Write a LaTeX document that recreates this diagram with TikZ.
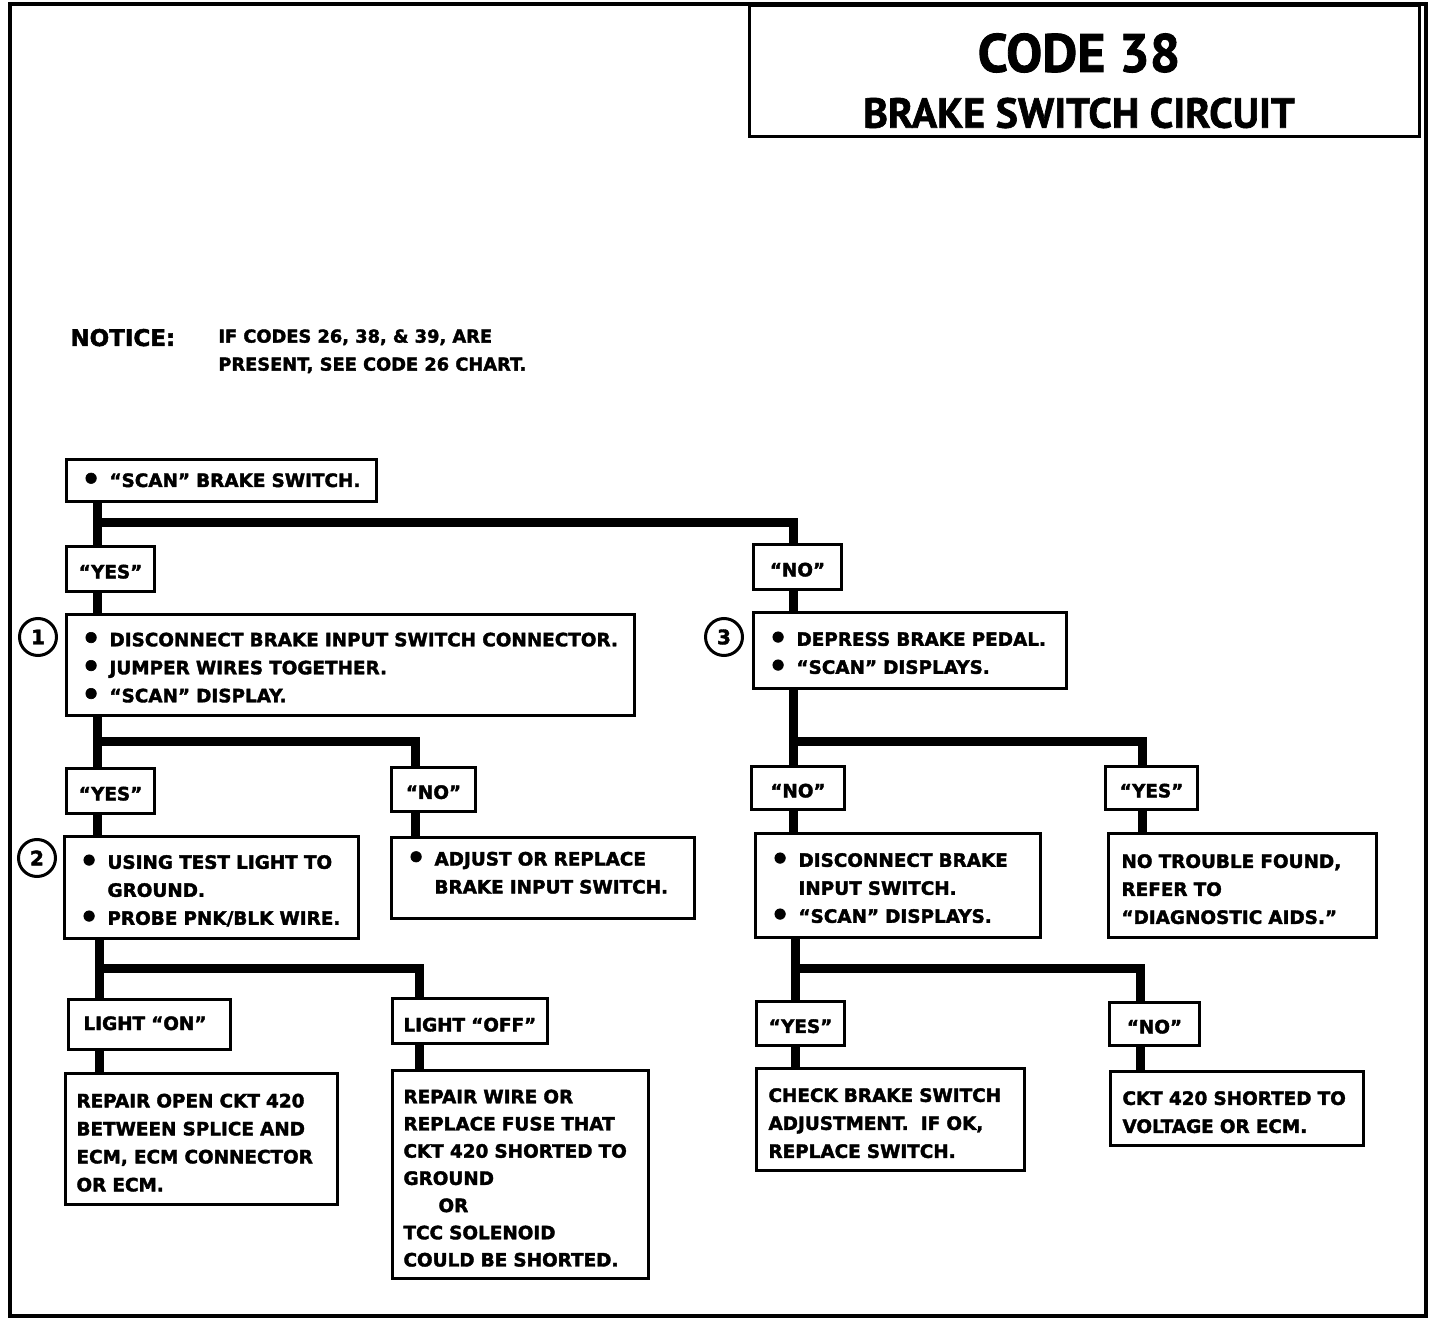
\documentclass[tikz,border=0pt]{standalone}
\usepackage{fontspec}
\setmainfont{PT Sans}[BoldFeatures={FakeBold=1.5}]
\newfontfamily\bodyfont{DejaVu Sans}[BoldFeatures={FakeBold=2}]
\usetikzlibrary{positioning}

\newcommand{\bl}{\makebox[14pt][l]{\raisebox{-1.2pt}{\fontsize{15}{14}\selectfont\textbullet}}}
\newcommand{\ind}{\hspace*{14pt}}

\begin{document}
\begin{tikzpicture}[x=0.5pt, y=-0.5pt,
  every node/.style={font=\bodyfont\bfseries\fontsize{9.2}{14}\selectfont},
  box/.style={draw, line width=1.5pt, anchor=north west, align=left, inner xsep=7.5pt, inner ysep=0pt,
    execute at begin node={\rule{0pt}{10.5pt}}},
  answer/.style={draw, line width=1.5pt, anchor=north west, align=center, inner sep=0pt,
    execute at begin node={\rule{0pt}{9.5pt}}},
  stepno/.style={draw, circle, line width=1.5pt, minimum size=18.5pt, inner sep=0pt, font=\bodyfont\bfseries\fontsize{10}{10}\selectfont},
  wire/.style={line width=4.5pt}]
\useasboundingbox (0,0) rectangle (1456,1320);
% Frame and title
\draw[line width=2pt] (10,4) rectangle (1426,1316);
\node[draw, line width=1.5pt, fill=white, anchor=north west, minimum width=335pt, minimum height=65.5pt] (titlebox) at (748,4) {};
\node[font=\bfseries\fontsize{27}{27}\selectfont] (code) at (1079,53) {CODE 38};
\node[font=\bfseries\fontsize{21}{21}\selectfont] (circuit) at (1079,113) {BRAKE SWITCH CIRCUIT};

% Notice
\node[anchor=base west, inner sep=0pt, font=\bodyfont\bfseries\fontsize{11.5}{11.5}\selectfont] (notice) at (70,346) {NOTICE:};
\node[anchor=north west, align=left, inner sep=0pt, font=\bodyfont\bfseries\fontsize{8.9}{14}\selectfont] (noticetext) at (218,329)
  {IF CODES 26, 38, \& 39, ARE\\ PRESENT, SEE CODE 26 CHART.};

% Left branch
\node[box, text width=140pt, minimum height=21pt, execute at end node={\rule[-4pt]{0pt}{4pt}}] (scan) at (65,458) {\bl“SCAN” BRAKE SWITCH.};
\node[answer, minimum width=44pt, minimum height=22.5pt] (yes1) at (65,545) {“YES”};
\node[box, text width=269pt, minimum height=50.5pt] (box1) at (65,613)
  {\bl DISCONNECT BRAKE INPUT SWITCH CONNECTOR.\\ \bl JUMPER WIRES TOGETHER.\\ \bl“SCAN” DISPLAY.};
\node[stepno] (s1) at (38,637) {1};
\node[answer, minimum width=44pt, minimum height=22.5pt] (yes2) at (65,767) {“YES”};
\node[answer, minimum width=42pt, minimum height=22pt] (no2) at (390,766) {“NO”};
\node[box, text width=132pt, minimum height=51pt] (box2) at (63,835)
  {\bl USING TEST LIGHT TO\\ \ind GROUND.\\ \bl PROBE PNK/BLK WIRE.};
\node[stepno] (s2) at (37,858) {2};
\node[box, text width=136.5pt, minimum height=40.5pt, execute at end node={\rule[-9pt]{0pt}{9pt}}] (adjust) at (390,836)
  {\bl ADJUST OR REPLACE\\ \ind BRAKE INPUT SWITCH.};
\node[box, text width=66pt, minimum height=25pt, execute at end node={\rule[-5pt]{0pt}{5pt}}] (lighton) at (67,998) {LIGHT “ON”};
\node[box, inner xsep=5.5pt, text width=66.5pt, minimum height=22.5pt] (lightoff) at (391,997) {LIGHT “OFF”};
\node[box, inner xsep=5.5pt, text width=125pt, minimum height=65.5pt] (repopen) at (64,1072)
  {REPAIR OPEN CKT 420\\ BETWEEN SPLICE AND\\ ECM, ECM CONNECTOR\\ OR ECM.};
\node[box, inner xsep=5.5pt, text width=117pt, minimum height=104pt,
  font=\bodyfont\bfseries\fontsize{9.2}{13.6}\selectfont] (repwire) at (391,1069)
  {REPAIR WIRE OR\\ REPLACE FUSE THAT\\ CKT 420 SHORTED TO\\ GROUND\\ \hspace*{17.5pt}OR\\ TCC SOLENOID\\ COULD BE SHORTED.};

% Right branch
\node[answer, minimum width=44pt, minimum height=22.5pt] (no1) at (752,543) {“NO”};
\node[box, text width=141.5pt, minimum height=38pt] (box3) at (752,611)
  {\bl DEPRESS BRAKE PEDAL.\\ \bl“SCAN” DISPLAYS.};
\node[stepno] (s3) at (724,637) {3};
\node[answer, minimum width=46.5pt, minimum height=21.5pt] (no3) at (750,765) {“NO”};
\node[answer, minimum width=46pt, minimum height=21.5pt] (yes3) at (1104,765) {“YES”};
\node[box, text width=127.5pt, minimum height=52pt] (disc) at (754,832)
  {\bl DISCONNECT BRAKE\\ \ind INPUT SWITCH.\\ \bl“SCAN” DISPLAYS.};
\node[box, inner xsep=6.5pt, text width=121pt, minimum height=52pt] (notrouble) at (1107,832)
  {NO TROUBLE FOUND,\\ REFER TO\\ “DIAGNOSTIC AIDS.”};
\node[answer, minimum width=44pt, minimum height=22pt] (yes4) at (755,1000) {“YES”};
\node[answer, minimum width=45pt, minimum height=21.5pt] (no4) at (1108,1001) {“NO”};
\node[box, inner xsep=6pt, text width=122pt, minimum height=51pt] (check) at (755,1067)
  {CHECK BRAKE SWITCH\\ ADJUSTMENT.\ \ IF OK,\\ REPLACE SWITCH.};
\node[box, inner xsep=6pt, text width=114.5pt, minimum height=37pt] (ckt) at (1109,1070)
  {CKT 420 SHORTED TO\\ VOLTAGE OR ECM.};

% Connectors
\coordinate (j1) at (97,523);
\coordinate (k1) at (793,523);
\draw[wire] (j1 |- scan.south) -- (j1 |- yes1.north);
\draw[wire] (j1) -- (k1) -- (k1 |- no1.north);
\draw[wire] (j1 |- yes1.south) -- (j1 |- box1.north);
\draw[wire] (k1 |- no1.south) -- (k1 |- box3.north);

\coordinate (j2) at (97,741);
\coordinate (k2) at (415,741);
\draw[wire] (j2 |- box1.south) -- (j2 |- yes2.north);
\draw[wire] (j2) -- (k2) -- (k2 |- no2.north);
\draw[wire] (j2 |- yes2.south) -- (j2 |- box2.north);
\draw[wire] (k2 |- no2.south) -- (k2 |- adjust.north);

\coordinate (j3) at (99,968);
\coordinate (k3) at (419,968);
\draw[wire] (j3 |- box2.south) -- (j3 |- lighton.north);
\draw[wire] (j3) -- (k3) -- (k3 |- lightoff.north);
\draw[wire] (j3 |- lighton.south) -- (j3 |- repopen.north);
\draw[wire] (k3 |- lightoff.south) -- (k3 |- repwire.north);

\coordinate (j4) at (793,741);
\coordinate (k4) at (1142,741);
\draw[wire] (j4 |- box3.south) -- (j4 |- no3.north);
\draw[wire] (j4) -- (k4) -- (k4 |- yes3.north);
\draw[wire] (j4 |- no3.south) -- (j4 |- disc.north);
\draw[wire] (k4 |- yes3.south) -- (k4 |- notrouble.north);

\coordinate (j5) at (795,968);
\coordinate (k5) at (1140,968);
\draw[wire] (j5 |- disc.south) -- (j5 |- yes4.north);
\draw[wire] (j5) -- (k5) -- (k5 |- no4.north);
\draw[wire] (j5 |- yes4.south) -- (j5 |- check.north);
\draw[wire] (k5 |- no4.south) -- (k5 |- ckt.north);
\end{tikzpicture}
\end{document}
